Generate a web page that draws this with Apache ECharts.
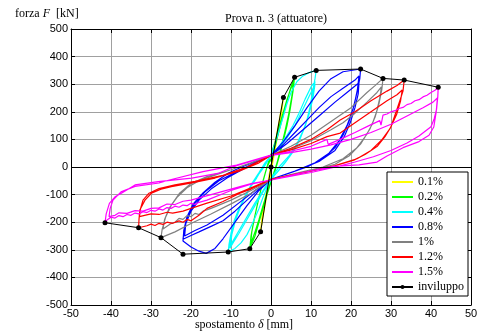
<!DOCTYPE html>
<html>
<head>
<meta charset="utf-8">
<script src="https://cdn.jsdelivr.net/npm/echarts@6/dist/echarts.min.js"></script>
<style>html,body{margin:0;padding:0;background:#fff}#c{width:488px;height:332px}</style>
</head>
<body>
<div id="c"></div>
<script>
const seriesNames = ['0.1%', '0.2%', '0.4%', '0.8%', '1%', '1.2%', '1.5%', 'inviluppo'];
const seriesColors = ['#ffff00', '#00ff00', '#00ffff', '#0000ff', '#808080', '#ff0000', '#ff00ff', '#000000'];
const xTicks = [-50, -40, -30, -20, -10, 0, 10, 20, 30, 40, 50];
const yTicks = [-500, -400, -300, -200, -100, 0, 100, 200, 300, 400, 500];

const loop01 = [[0,0],[1,85],[2,165],[3.1,252],[2.7,200],[1.8,125],[0.8,45],[0,-20],[-1,-100],[-1.9,-170],[-2.6,-235],[-2.3,-185],[-1.4,-110],[-0.5,-35],[0,5],[1,80],[2,160],[2.9,235],[2.6,190],[1.6,110],[0.6,30],[0,-20],[-1,-100],[-2,-180],[-2.5,-225],[-2.1,-165],[-1.2,-90],[-0.3,-15],[0,5]];

const loop02 = [[0,20],[1,75],[2,130],[3,185],[4,240],[5,290],[5.9,325],[5.5,275],[4.8,210],[4,150],[3,90],[2,35],[1,-15],[0,-55],[-1,-100],[-2,-150],[-3,-200],[-4,-250],[-5.3,-296],[-5,-250],[-4.3,-195],[-3.4,-135],[-2.4,-75],[-1.4,-20],[-0.5,25],[0,45],[1,90],[2,145],[3,195],[4,245],[5,285],[5.6,305],[5.2,255],[4.4,190],[3.5,130],[2.5,70],[1.5,15],[0.5,-30],[0,-50],[-1,-95],[-2,-140],[-3,-190],[-4,-235],[-5.1,-280],[-4.8,-235],[-4,-175],[-3,-110],[-2,-50],[-1,0],[0,30]];

const loop04 = [[0,42],[1,85],[2,130],[3,180],[4,230],[5,270],[6.5,310],[8,330],[9.5,342],[11.3,350],[11,320],[10.5,280],[9.8,220],[8.8,160],[7.5,110],[6,65],[4,25],[2,-10],[0,-45],[-1,-75],[-2,-110],[-3,-150],[-4.5,-200],[-6,-245],[-7.5,-275],[-9,-295],[-10.7,-308],[-10.5,-280],[-10,-240],[-9.2,-195],[-8,-150],[-6.5,-105],[-5,-65],[-3,-20],[-1.5,15],[0,42],[2,75],[4,115],[5.5,150],[7,195],[8.5,245],[10,290],[11,310],[10.6,270],[9.8,210],[8.6,150],[7.2,100],[5.5,55],[3.5,15],[1.5,-20],[0,-45],[-2,-90],[-4,-140],[-6,-190],[-8,-240],[-9.5,-275],[-10.3,-295],[-10,-255],[-9.2,-205],[-8,-155],[-6.5,-110],[-5,-70],[-3.6,-40],[-2,0],[0,42],[2,70],[4,105],[6,150],[8,210],[10,270],[11,300],[10.5,250],[9.5,190],[8,130],[6.5,85],[4.5,40],[2,0],[0,-40],[-2,-85],[-4,-130],[-6,-180],[-8,-230],[-10,-280],[-10.2,-290],[-9.8,-245],[-8.8,-190],[-7.5,-140],[-6,-95],[-4,-45],[-2,-5],[0,40]];

const loop08 = [[0,42],[3,90],[6,150],[9,215],[12,275],[15,320],[18,345],[22.4,355],[22.2,320],[21.5,270],[20.5,210],[19,150],[17,95],[14.5,50],[11,15],[6,-15],[0,-45],[-3,-85],[-6,-140],[-9,-200],[-12,-260],[-14,-295],[-16.2,-313],[-18,-305],[-20,-290],[-22,-268],[-21.8,-230],[-21,-180],[-19.5,-135],[-17,-94],[-14,-55],[-11,-25],[-8.6,-8],[-4,20],[0,42],[3,80],[6,125],[9,170],[12,215],[15,255],[18,285],[21,315],[22,330],[21.6,280],[20.8,225],[19.5,165],[18,115],[16,70],[13,30],[9,0],[4,-25],[0,-45],[-3,-80],[-6,-120],[-9,-160],[-12,-195],[-15,-215],[-18,-235],[-20,-248],[-22,-262],[-21.6,-215],[-20.5,-170],[-19,-130],[-16.5,-90],[-13,-50],[-9,-20],[-4,15],[0,42],[4,85],[8,135],[12,185],[16,235],[19,270],[22,305],[21.8,265],[21,215],[19.8,160],[18.3,110],[16,60],[12,20],[7,-10],[0,-45],[-4,-85],[-8,-130],[-12,-175],[-16,-210],[-19,-230],[-21.6,-250],[-21.3,-205],[-20,-160],[-18,-120],[-15,-80],[-11,-40],[-6,0],[0,42]];

const loop10 = [[0,42],[5,75],[10,115],[15,165],[20,215],[24,270],[26,295],[28,321],[27.7,280],[27,230],[26,180],[24.8,140],[22.5,85],[19.5,40],[16,10],[10,-15],[0,-45],[-5,-95],[-9.5,-130],[-15,-170],[-20,-205],[-24,-235],[-27.5,-256],[-27.2,-225],[-26.3,-180],[-24.8,-135],[-22.8,-94],[-20,-60],[-16,-35],[-10,-10],[-5,15],[0,42],[5,65],[10,95],[15,135],[18,160],[21,195],[24,235],[26.5,270],[27.6,290],[27.2,250],[26.4,200],[25.3,155],[23.8,115],[21.5,70],[18,30],[13,0],[7,-20],[0,-45],[-5,-85],[-10,-120],[-15,-150],[-17,-160],[-18,-172],[-19,-168],[-20,-180],[-21,-176],[-22,-190],[-23,-186],[-24,-200],[-25,-205],[-27,-225],[-26.6,-190],[-25.5,-150],[-23.5,-110],[-21,-75],[-18,-50],[-12,-20],[-6,10],[0,42]];

const loop12 = [[0,42],[5,68],[10,100],[14,135],[17.3,170],[21,200],[25,240],[29,275],[31.5,295],[33.3,315],[33,275],[32,231],[30,146],[28.5,110],[26.5,74],[23.5,45],[20.7,25],[15,0],[8,-20],[0,-45],[-5,-80],[-7.8,-95],[-12,-125],[-16,-150],[-18,-175],[-19,-185],[-20,-195],[-21,-190],[-22,-200],[-23,-195],[-24.6,-204],[-26,-200],[-27,-208],[-28,-204],[-29,-212],[-30,-207],[-31,-213],[-33.1,-220],[-33,-190],[-32.8,-156],[-31.5,-120],[-29.9,-95],[-27.5,-80],[-24.9,-71],[-19.8,-58],[-14,-40],[-8,-15],[-3,15],[0,42],[5,62],[10,85],[14,110],[17.3,123],[21,160],[25,200],[29,240],[31.5,262],[32.8,279],[32.4,240],[31.4,190],[29.8,140],[27.8,100],[25,60],[21.5,30],[16,5],[9,-18],[0,-45],[-5,-75],[-10,-105],[-16,-131],[-20,-150],[-22,-160],[-24.6,-167],[-26,-164],[-28,-172],[-30,-170],[-32.9,-180],[-32.6,-150],[-32,-120],[-30.5,-95],[-28,-78],[-24,-65],[-19,-52],[-12,-30],[-6,0],[0,42]];

const loop15 = [[0,42],[5,57],[10,75],[14,100],[14.3,82],[17.3,100],[21,125],[24.5,150],[27.2,168],[27.5,152],[28,188],[29,192],[30,200],[31,204],[32,212],[33,216],[34,226],[35,230],[36,240],[37,244],[38,254],[39,260],[40,270],[41,278],[41.8,289],[41.7,255],[41.4,210],[40.8,175],[40,146],[37,112],[34,87],[30,60],[25.6,37],[21,18],[17.3,4],[10,-20],[5,-33],[0,-47],[-5,-62],[-10,-85],[-16,-120],[-18,-128],[-19,-136],[-20,-131],[-21,-140],[-22,-138],[-23,-146],[-24,-142],[-25,-150],[-26,-147],[-27,-156],[-28,-152],[-29,-160],[-30,-157],[-31,-165],[-32,-162],[-33,-170],[-34,-167],[-35,-175],[-36,-172],[-37,-180],[-38,-176],[-39,-185],[-40,-182],[-41,-192],[-41.5,-202],[-41.2,-170],[-40.4,-132],[-39,-108],[-37.4,-95],[-34,-65],[-28.2,-53],[-19.8,-40],[-13,-22],[-8.6,5],[-4,25],[0,42],[5,52],[10,65],[15,80],[20,100],[25,125],[30,155],[34,185],[38,215],[40.5,235],[41.6,250],[41.3,200],[40.7,145],[39.5,115],[37,92],[33,70],[29,40],[26.5,18],[22,8],[15.6,2],[8,-20],[0,-47],[-5,-60],[-10,-80],[-15,-100],[-20,-120],[-22,-124],[-24,-136],[-26,-134],[-28,-148],[-30,-150],[-32,-160],[-34,-158],[-36,-168],[-38,-166],[-39,-175],[-40.5,-180],[-40.2,-150],[-39.5,-120],[-37.5,-90],[-34,-70],[-28,-58],[-25.4,-47],[-17,-17],[-8.6,7],[0,43],[4.8,55]];

const envelope = [[-41.5,-202],[-33.1,-220],[-27.5,-256],[-22,-316],[-10.7,-308],[-5.3,-296],[-2.6,-235],[0,0],[3.1,252],[5.9,325],[11.3,350],[22.4,355],[28,321],[33.3,315],[41.8,289]];

const loops = [loop01, loop02, loop04, loop08, loop10, loop12, loop15];

const chart = echarts.init(document.getElementById('c'), null, {renderer: 'canvas'});
const serif = 'Liberation Serif, Times New Roman, serif';
const sans = 'Liberation Sans, Arial, sans-serif';

const series = loops.map((d, i) => ({
  name: seriesNames[i],
  type: 'line',
  data: d,
  symbol: 'none',
  showSymbol: false,
  smooth: false,
  lineStyle: {color: seriesColors[i], width: 1.2},
  itemStyle: {color: seriesColors[i]},
  z: 3
}));
series[0].markLine = {
  silent: true, symbol: 'none', label: {show: false},
  lineStyle: {color: '#000', width: 1, type: 'solid'},
  data: [{xAxis: 0}, {yAxis: 0}],
  animation: false
};
series.push({
  name: seriesNames[7],
  type: 'line',
  data: envelope,
  symbol: 'circle',
  symbolSize: 5,
  lineStyle: {color: '#000', width: 1},
  itemStyle: {color: '#000'},
  z: 4
});

const legendData = seriesNames.map((n, i) => i < 7
  ? {name: n, itemStyle: {opacity: 0}}
  : {name: n});

const axisCommon = {
  type: 'value',
  axisLine: {show: true, onZero: false, lineStyle: {color: '#000', width: 1}},
  axisTick: {show: true, inside: true, length: 4, lineStyle: {color: '#000'}},
};

chart.setOption({
  animation: false,
  backgroundColor: '#fff',
  title: {
    text: 'Prova n. 3 (attuatore)', left: 271, top: 8, textAlign: 'center',
    textStyle: {fontFamily: serif, fontSize: 12, fontWeight: 'normal', color: '#000'}
  },
  graphic: [{
    type: 'text', left: 15, top: 8,
    style: {
      text: '{a|forza }{i|F}{a|  [kN]}',
      rich: {
        a: {fontFamily: serif, fontSize: 12, fill: '#000'},
        i: {fontFamily: serif, fontSize: 12, fontStyle: 'italic', fill: '#000'}
      }
    }
  }, {
    type: 'text', left: 'center', top: 319,
    style: {
      text: '{a|spostamento }{i|δ}{a| [mm]}',
      rich: {
        a: {fontFamily: serif, fontSize: 12, fill: '#000'},
        i: {fontFamily: serif, fontSize: 12, fontStyle: 'italic', fill: '#000'}
      }
    }
  }],
  legend: {
    orient: 'vertical', left: 387, top: 172,
    data: legendData,
    backgroundColor: '#fff', borderColor: '#000', borderWidth: 1,
    padding: [3, 4, 2, 4],
    itemWidth: 21, itemHeight: 5, itemGap: 1,
    textStyle: {fontFamily: serif, fontSize: 12, color: '#000', lineHeight: 14},
    selectedMode: false
  },
  grid: {left: 71, top: 29, width: 400, height: 276, containLabel: false},
  xAxis: [
    Object.assign({}, axisCommon, {
      min: xTicks[0], max: xTicks[xTicks.length - 1], interval: 10, position: 'bottom',
      axisLabel: {fontFamily: sans, fontSize: 11, color: '#000', margin: 3},
      splitLine: {show: true, lineStyle: {color: '#a0a0a0', width: 1}}
    }),
    Object.assign({}, axisCommon, {
      min: xTicks[0], max: xTicks[xTicks.length - 1], interval: 10, position: 'top',
      axisLabel: {show: false}, splitLine: {show: false}
    })
  ],
  yAxis: [
    Object.assign({}, axisCommon, {
      min: yTicks[0], max: yTicks[yTicks.length - 1], interval: 100, position: 'left',
      axisLabel: {fontFamily: sans, fontSize: 11, color: '#000', margin: 3},
      splitLine: {show: true, lineStyle: {color: '#a0a0a0', width: 1}}
    }),
    Object.assign({}, axisCommon, {
      min: yTicks[0], max: yTicks[yTicks.length - 1], interval: 100, position: 'right',
      axisLabel: {show: false}, splitLine: {show: false}
    })
  ],
  series: series
});
</script>
</body>
</html>
